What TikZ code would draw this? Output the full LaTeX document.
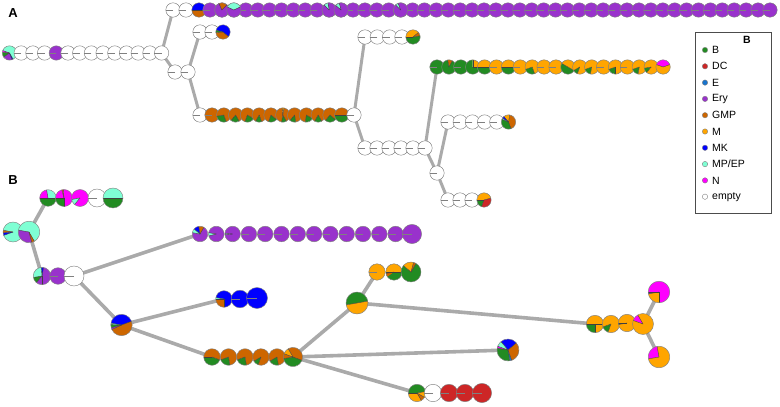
\documentclass[tikz,border=0pt]{standalone}
\usepackage{fontspec}
\setmainfont{Liberation Sans}
\pgfdeclarelayer{bg}
\pgfsetlayers{bg,main}
\definecolor{cB}{RGB}{34,139,34}
\definecolor{cDC}{RGB}{205,38,38}
\definecolor{cE}{RGB}{24,116,205}
\definecolor{cEry}{RGB}{153,50,204}
\definecolor{cGMP}{RGB}{205,102,0}
\definecolor{cM}{RGB}{255,165,0}
\definecolor{cMK}{RGB}{0,0,255}
\definecolor{cMP}{RGB}{127,255,212}
\definecolor{cN}{RGB}{255,0,255}
\definecolor{linkgray}{RGB}{170,170,170}
\tikzset{
  rim/.style={draw=black!50, line width=0.45pt},
  slice/.style={draw=black!75, line width=0.4pt},
  wslice/.style={draw=black!50, line width=0.4pt},
  link/.style={draw=linkgray, line width=3pt},
  linkB/.style={draw=linkgray, line width=3.6pt},
  panel/.style={font=\bfseries\fontsize{13}{15}\selectfont, inner sep=0pt},
  legtext/.style={font=\fontsize{10.5}{12}\selectfont, anchor=west, inner sep=0pt},
  legdot/.style={draw=black!50, line width=0.4pt},
  legbox/.style={draw=black!70, line width=0.6pt}
}
\def\ra{7.2pt}
% single colour pie: name, position, radius, colour
\newcommand\pieS[4]{%
  \coordinate (#1) at (#2);
  \fill[#4] (#1) circle[radius=#3];
  \draw[wslice] (#1) -- ++(180:#3);
  \draw[rim] (#1) circle[radius=#3];
}
% multi slice pie: name, position, radius, list colour/start/end
\newcommand\pieM[4]{%
  \coordinate (#1) at (#2);
  \foreach \c/\a/\b in {#4}{\fill[\c] (#1) -- ++(\a:#3) arc[start angle=\a, end angle=\b, radius=#3] -- cycle;}
  \foreach \c/\a/\b in {#4}{\draw[slice] (#1) -- ++(\a:#3);}
  \draw[rim] (#1) circle[radius=#3];
}
\begin{document}
\begin{tikzpicture}[x=1pt,y=-1pt]
\useasboundingbox (0,0) rectangle (780,407);

% ================= Panel A =================
\node[panel] (labA) at (13,13) {A};

% row 1
\pieS{a1w1}{173,10}{\ra}{white}
\pieS{a1w2}{186,10}{\ra}{white}
\pieM{a1m}{199,10}{\ra}{cMK/0/180, cGMP/180/360}
\foreach \k in {0,...,47}{\pieS{a1p\k}{210+11.915*\k,10}{\ra}{cEry}}
\pieM{a1s1}{221.9,10}{\ra}{cGMP/45/115, cEry/115/405}
\pieM{a1s2}{233.8,10}{\ra}{cMP/25/155, cEry/155/385}
\pieM{a1s10}{329.2,10}{\ra}{cMP/100/135, cEry/135/460}
\pieM{a1s11}{341.1,10}{\ra}{cMP/105/140, cEry/140/465}
\pieM{a1s16}{400.6,10}{\ra}{cMP/110/135, cEry/135/470}

% row 2
\pieS{a2w1}{200,32}{\ra}{white}
\pieS{a2w2}{212,32}{\ra}{white}
\pieM{a2m}{223,32}{\ra}{cMK/-40/165, cB/165/185, cGMP/185/320}

% row 3
\pieM{a3p0}{9.5,53}{\ra}{cMP/-60/160, cN/160/175, cB/175/215, cEry/215/290, cMK/290/300}
\foreach \k/\c in {1/white,2/white,3/white,4/cEry,5/white,6/white,7/white,8/white,9/white,10/white,11/white,12/white,13/white}{\pieS{a3p\k}{9.5+11.7*\k,53}{\ra}{\c}}

% junction
\pieS{j1}{175,72}{\ra}{white}
\pieS{j2}{188,72}{\ra}{white}

% row 4
\pieS{a4w}{200,115}{\ra}{white}
\pieS{a4p0}{212,115}{\ra}{cGMP}
\pieM{a4p1}{223.8,115}{\ra}{cB/190/290, cGMP/290/550}
\pieM{a4p2}{235.6,115}{\ra}{cB/230/300, cGMP/300/590}
\pieM{a4p3}{247.4,115}{\ra}{cB/250/330, cGMP/330/610}
\pieM{a4p4}{259.2,115}{\ra}{cB/240/290, cGMP/290/600}
\pieM{a4p5}{271,115}{\ra}{cB/250/320, cGMP/320/610}
\pieM{a4p6}{282.8,115}{\ra}{cB/260/300, cGMP/300/440, cM/80/95, cGMP/95/260}
\pieM{a4p7}{294.6,115}{\ra}{cB/230/280, cGMP/280/590}
\pieM{a4p8}{306.4,115}{\ra}{cB/260/330, cGMP/330/620}
\pieM{a4p9}{318.2,115}{\ra}{cB/240/300, cGMP/300/600}
\pieM{a4p10}{330,115}{\ra}{cB/230/320, cGMP/320/590}
\pieM{a4p11}{341.8,115}{\ra}{cB/180/360, cGMP/0/180}
\pieS{a4e}{354,115}{\ra}{white}

% row 5
\foreach \k in {0,...,3}{\pieS{a5w\k}{365+12.3*\k,37}{\ra}{white}}
\pieM{a5m}{413,37}{\ra}{cB/180/370, cGMP/10/40, cM/40/180}

% row 6
\foreach \k in {0,...,5}{\pieS{a6p\k}{365+12*\k,148}{\ra}{white}}

% single node
\pieS{a7w}{437,173}{\ra}{white}

% row 7
\pieS{a7p0}{437,67}{\ra}{cB}
\pieM{a7p1}{448.9,67}{\ra}{cGMP/60/100, cB/100/420}
\pieS{a7p2}{460.8,67}{\ra}{cB}
\pieM{a7p3}{472.7,67}{\ra}{cM/0/90, cB/90/360}
\pieM{a7p4}{484.6,67}{\ra}{cM/0/180, cB/180/360}
\pieS{a7p5}{496.5,67}{\ra}{cM}
\pieM{a7p6}{508.4,67}{\ra}{cM/0/180, cB/180/360}
\pieS{a7p7}{520.3,67}{\ra}{cM}
\pieM{a7p8}{532.2,67}{\ra}{cB/200/290, cM/290/560}
\pieS{a7p9}{544.1,67}{\ra}{cM}
\pieS{a7p10}{556,67}{\ra}{cM}
\pieM{a7p11}{567.9,67}{\ra}{cB/150/330, cM/330/510}
\pieM{a7p12}{579.8,67}{\ra}{cB/210/250, cM/250/570}
\pieM{a7p13}{591.7,67}{\ra}{cB/200/260, cM/260/560}
\pieS{a7p14}{603.6,67}{\ra}{cM}
\pieM{a7p15}{615.5,67}{\ra}{cB/200/270, cM/270/560}
\pieS{a7p16}{627.4,67}{\ra}{cM}
\pieM{a7p17}{639.3,67}{\ra}{cB/200/260, cM/260/560}
\pieM{a7p18}{651.2,67}{\ra}{cB/190/230, cM/230/550}
\pieM{a7p19}{663.1,67}{\ra}{cN/20/160, cM/160/380}

% row 8
\foreach \k in {0,...,4}{\pieS{a8p\k}{448+12.2*\k,122}{\ra}{white}}
\pieM{a8m}{508.5,122}{\ra}{cGMP/-70/80, cM/80/130, cMK/130/148, cMP/148/158, cB/158/290}

% row 9
\foreach \k in {0,...,2}{\pieS{a9p\k}{448+12*\k,200}{\ra}{white}}
\pieM{a9m}{484,200}{\ra}{cM/15/180, cB/180/250, cDC/250/375}

\begin{pgfonlayer}{bg}
\draw[link] (a3p13) -- (a1w1);
\draw[link] (a3p13) -- (j1);
\draw[link] (j2) -- (a2w1);
\draw[link] (j2) -- (a4w);
\draw[link] (a4e) -- (a5w0);
\draw[link] (a4e) -- (a6p0);
\draw[link] (a6p5) -- (a7p0);
\draw[link] (a6p5) -- (a7w);
\draw[link] (a7w) -- (a8p0);
\draw[link] (a7w) -- (a9p0);
\end{pgfonlayer}

% legend
\draw[legbox] (695,32) rectangle (771,213);
\node[font=\bfseries\fontsize{10.5}{12}\selectfont, inner sep=0pt] (legtitle) at (747,40) {B};
\foreach \c/\t [count=\i from 0] in {cB/B, cDC/DC, cE/E, cEry/Ery, cGMP/GMP, cM/M, cMK/MK, cMP/MP\slash EP, cN/N, white/empty}{
  \fill[\c, legdot] (705,50+16.3*\i) circle[radius=2.7pt];
  \node[legtext] (leg\i) at (712,50+16.3*\i) {\t};
}

% ================= Panel B =================
\node[panel] (labB) at (13,180) {B};

% top row
\pieM{b1p0}{48,198}{8.3pt}{cMP/0/100, cN/100/180, cB/180/360}
\pieM{b1p1}{64,198}{8.5pt}{cN/-90/95, cGMP/95/105, cN/105/180, cB/180/270}
\pieM{b1p2}{80,198}{8.5pt}{cN/230/550, cMP/190/230}
\pieS{b1p3}{97,198}{9pt}{white}
\pieM{b1p4}{113,198}{10pt}{cMP/0/180, cB/180/360}

% second group
\pieM{b2p0}{13,232}{10pt}{cMP/-160/170, cGMP/170/185, cMK/185/200}
\pieM{b2p1}{29,232}{10.8pt}{cMP/-60/170, cEry/170/285, cGMP/285/300}

% third group
\pieM{b3p0}{42,276}{8.7pt}{cEry/-90/80, cMK/80/95, cMP/95/190, cB/190/230, cEry/230/270}
\pieS{b3p1}{58,276}{8.3pt}{cEry}
\pieS{b3p2}{74,276}{10pt}{white}

% purple row
\pieM{b4p0}{200,234}{7.8pt}{cEry/170/420, cGMP/60/100, cMK/100/140, cMP/140/170}
\pieM{b4p1}{216.3,234}{7.8pt}{cMP/170/195, cEry/195/530}
\pieM{b4p2}{232.6,234}{7.8pt}{cMP/175/185, cEry/185/535}
\foreach \k in {3,...,12}{\pieS{b4p\k}{200+16.3*\k,234}{7.8pt}{cEry}}
\pieS{b4p13}{412,234}{9.6pt}{cEry}

% MK group
\pieM{b5p0}{224,299}{8.3pt}{cMK/-90/170, cMP/170/180, cGMP/180/270}
\pieS{b5p1}{240,299}{8.8pt}{cMK}
\pieS{b5p2}{257,298}{10.5pt}{cMK}

% MK / GMP pie
\pieM{b6}{121.5,325}{10.7pt}{cMK/20/170, cMP/170/178, cB/178/195, cEry/195/205, cGMP/205/380}

% GMP / B row
\pieM{b7p0}{212,357}{8.3pt}{cB/180/340, cGMP/340/540}
\pieM{b7p1}{228.5,357}{8.3pt}{cB/200/280, cGMP/280/560}
\pieM{b7p2}{245,357}{8.3pt}{cB/200/280, cGMP/280/560}
\pieM{b7p3}{261,357}{8.3pt}{cB/210/250, cGMP/250/570}
\pieM{b7p4}{277,357}{8.3pt}{cB/210/280, cGMP/280/570}
\pieM{b7p5}{293,357}{9.6pt}{cB/190/340, cGMP/340/480, cM/120/160, cGMP/160/190}

% B / M pie and its row
\pieM{b8}{357,303}{11pt}{cB/10/190, cM/190/370}
\pieS{b8p0}{377,272}{8.2pt}{cM}
\pieM{b8p1}{394,272}{8.2pt}{cM/0/180, cB/180/360, cGMP/190/215}
\pieM{b8p2}{411,272}{10pt}{cB/140/420, cM/75/140, cGMP/60/75}

% multi pie
\pieM{b9}{508,350}{11pt}{cMK/40/130, cMP/130/160, cN/160/170, cB/170/280, cE/280/290, cGMP/290/400}

% red row
\pieM{b10p0}{417,393}{8.7pt}{cB/10/180, cM/180/300, cGMP/300/330, cM/330/370}
\pieS{b10p1}{433,393}{8.7pt}{white}
\pieS{b10p2}{449,393}{8.7pt}{cDC}
\pieS{b10p3}{465,393}{8.7pt}{cDC}
\pieS{b10p4}{482,393}{9.6pt}{cDC}

% right group
\pieM{b11p0}{595,324}{8.7pt}{cM/0/180, cB/180/270, cM/270/360}
\pieM{b11p1}{611,324}{8.7pt}{cB/200/250, cM/250/560}
\pieM{b11p2}{627,323}{8.7pt}{cB/180/190, cM/190/540}
\pieM{b11p3}{643,324}{10.5pt}{cN/120/160, cM/160/480}
\pieM{b11p4}{659,292}{10.8pt}{cMK/180/190, cM/190/270, cN/270/540}
\pieM{b11p5}{659,357}{10.8pt}{cN/100/190, cM/190/460}

\begin{pgfonlayer}{bg}
\draw[linkB] (b2p1) -- (b1p0);
\draw[linkB] (b2p1) -- (b3p0);
\draw[linkB] (b3p2) -- (b4p0);
\draw[linkB] (b3p2) -- (b6);
\draw[linkB] (b6) -- (b5p0);
\draw[linkB] (b6) -- (b7p0);
\draw[linkB] (b7p5) -- (b8);
\draw[linkB] (b7p5) -- (b9);
\draw[linkB] (b7p5) -- (b10p0);
\draw[linkB] (b8) -- (b8p0);
\draw[linkB] (b8) -- (b11p0);
\draw[linkB] (b11p3) -- (b11p4);
\draw[linkB] (b11p3) -- (b11p5);
\end{pgfonlayer}
\end{tikzpicture}
\end{document}
